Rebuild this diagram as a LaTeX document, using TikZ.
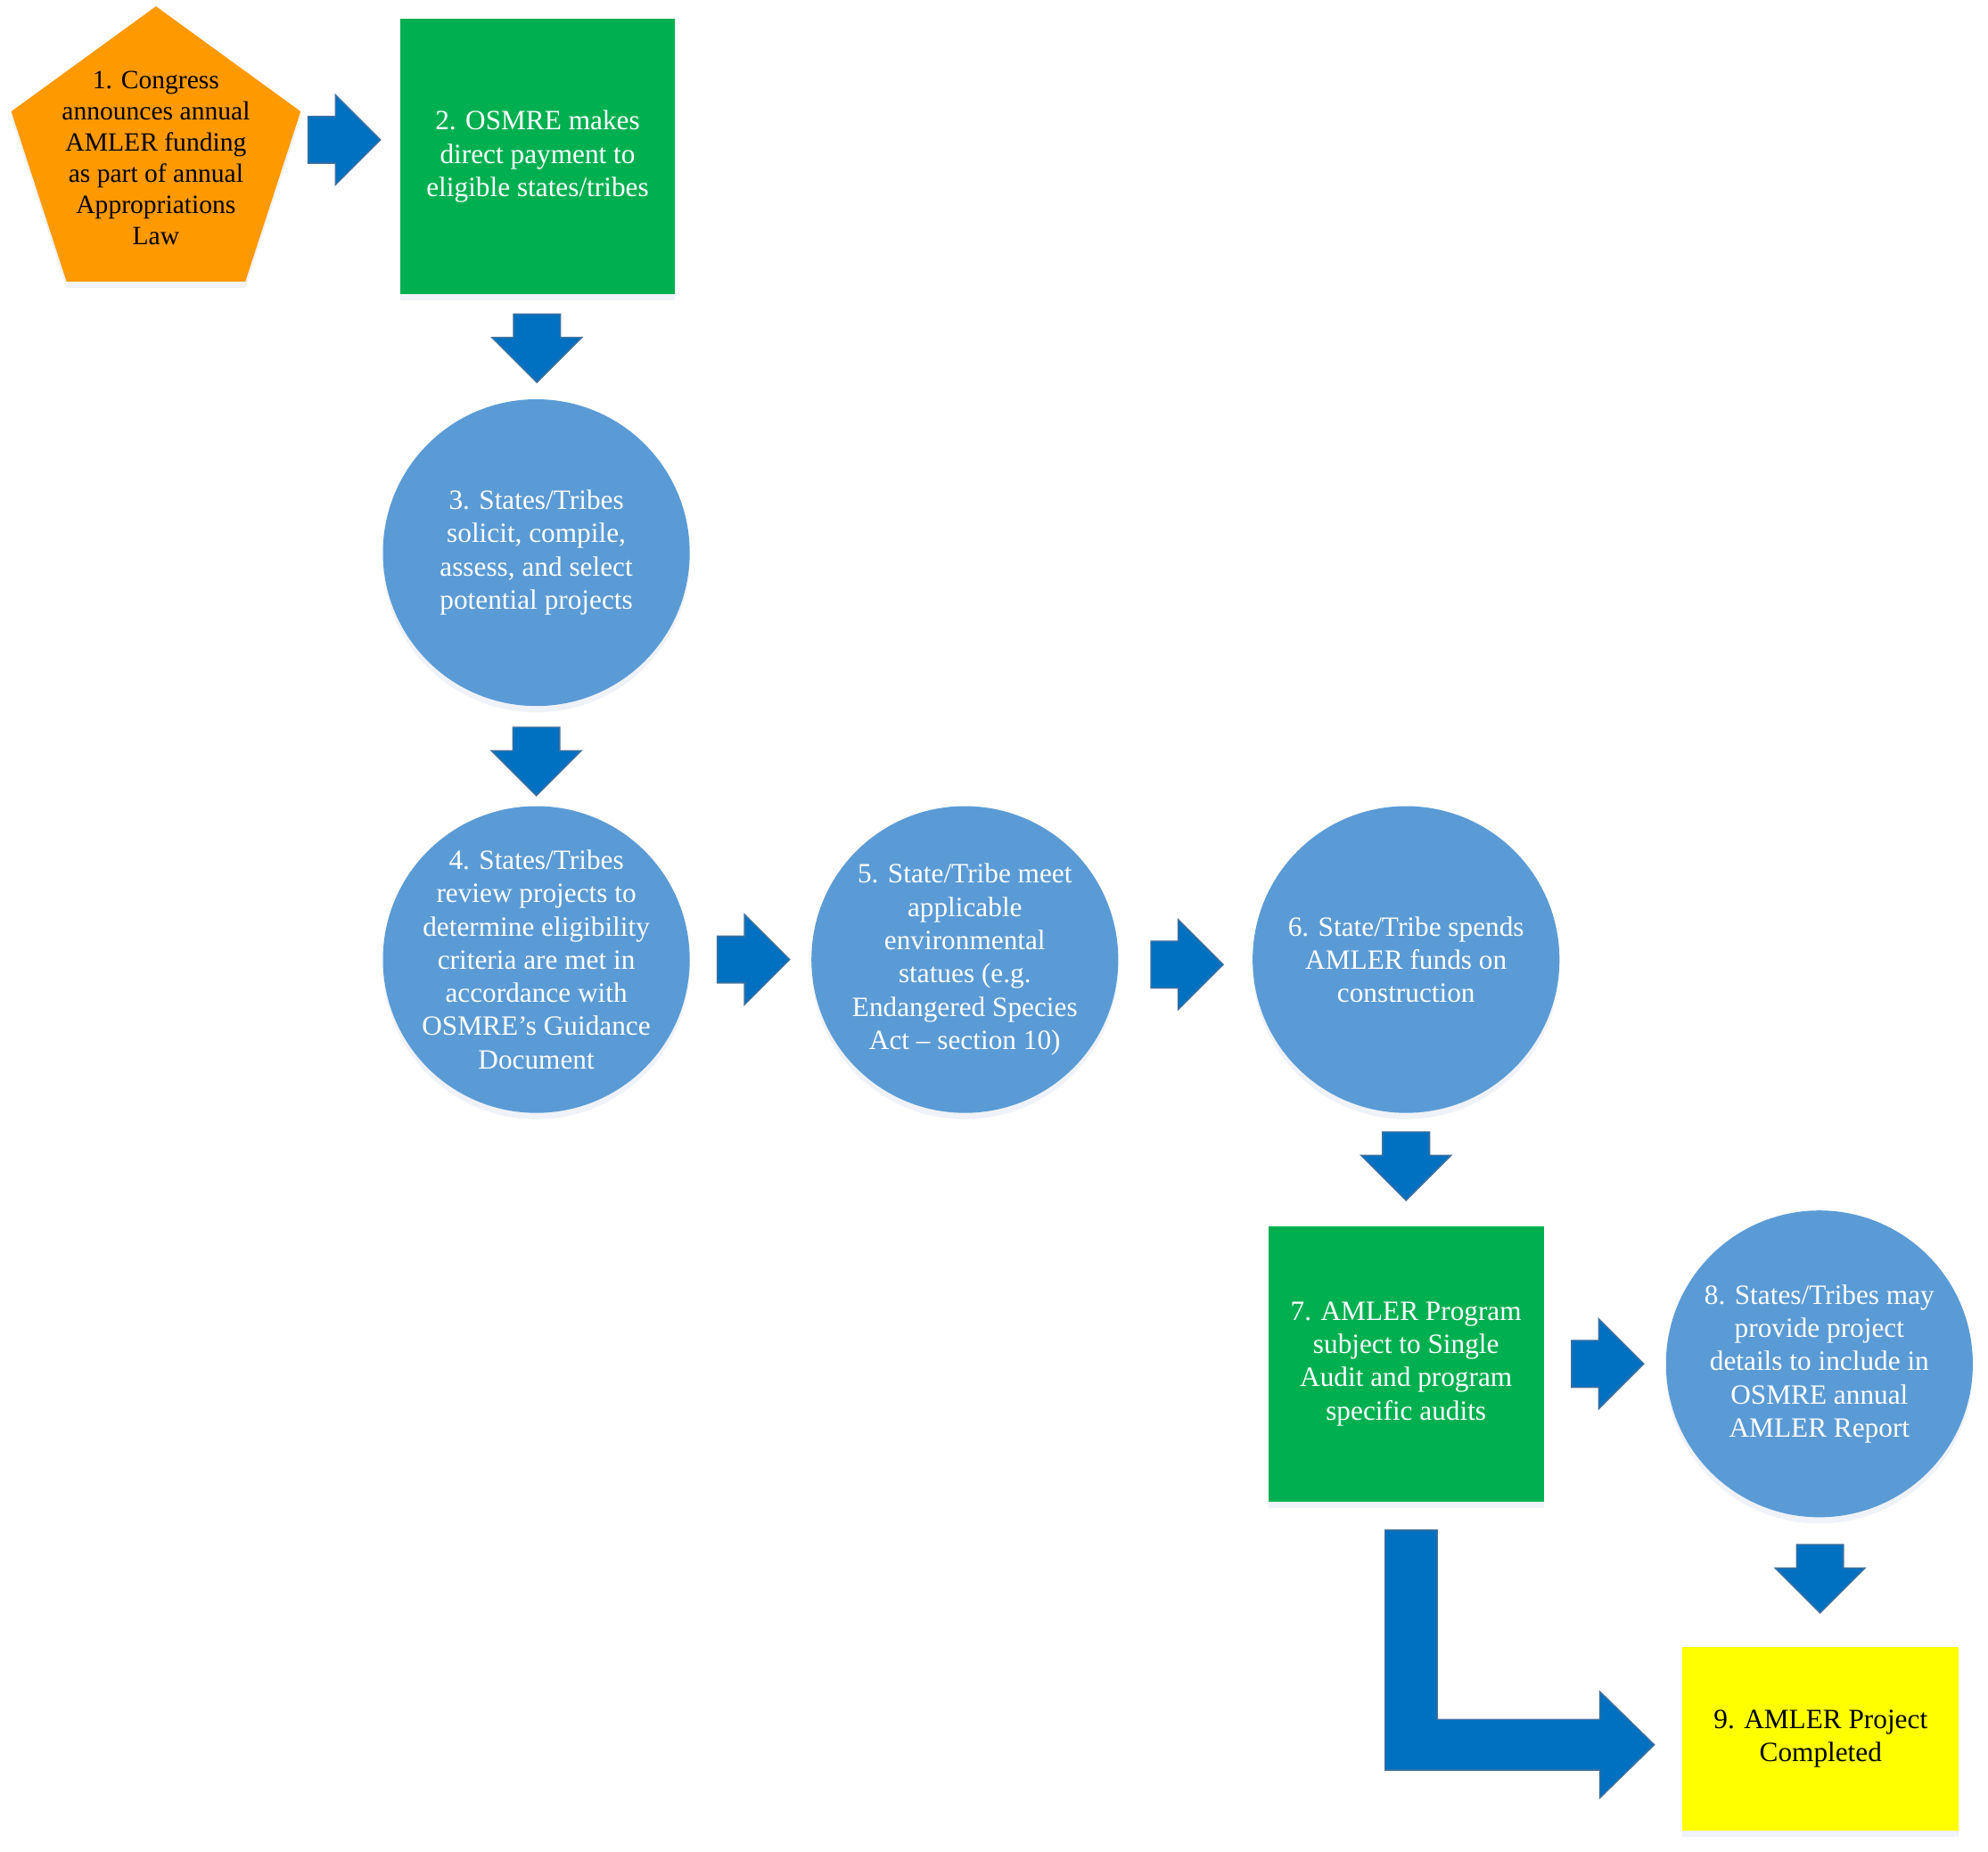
\documentclass[tikz,border=0pt]{standalone}
\usepackage{fontspec}
\setmainfont{Liberation Serif}
\usepackage{tikz}
\usetikzlibrary{calc}
\usetikzlibrary{positioning}
\usetikzlibrary{shapes.geometric,shapes.arrows}
\usetikzlibrary{shadows}

\definecolor{pentorange}{RGB}{255,153,0}
\definecolor{boxgreen}{RGB}{0,176,80}
\definecolor{boxyellow}{RGB}{255,255,0}
\definecolor{circblue}{RGB}{91,155,213}
\definecolor{arrowblue}{RGB}{0,112,192}
\definecolor{arrowline}{RGB}{65,113,156}
\definecolor{shadowblue}{RGB}{120,150,195}

\begin{document}
\begin{tikzpicture}
	[x=1pt, y=-1pt,
	every node/.style = {font=\fontsize{22}{26.2}\selectfont, align=center},
	soft/.style = {drop shadow={shadow xshift=0pt, shadow yshift=-5pt, opacity=.12, fill=shadowblue}},
	pent/.style = {regular polygon, regular polygon sides=5, minimum size=240pt, inner sep=0pt, fill=pentorange, soft},
	greenbox/.style = {rectangle, minimum size=217pt, inner sep=0pt, fill=boxgreen, text=white, soft},
	yellowbox/.style = {rectangle, minimum width=218pt, minimum height=145pt, inner sep=0pt, fill=boxyellow, soft},
	bluecirc/.style = {circle, minimum size=242pt, inner sep=0pt, fill=circblue, soft},
	wtxt/.style = {text=white},
	rarrow/.style = {single arrow, single arrow head extend=17pt, inner xsep=0pt, inner ysep=18pt, minimum height=57pt, fill=arrowblue, draw=arrowline, line width=1pt},
	darrow/.style = {rarrow, minimum height=54pt, rotate=-90}
	]
	\useasboundingbox (0,0) rectangle (1568,1461);

	% steps
	\node[pent] (n1) at (123,125) {};
	\node[font=\fontsize{20.8}{24.6}\selectfont] (t1) at (n1.center) {1. Congress\\announces annual\\AMLER funding\\as part of annual\\Appropriations\\Law};
	\node[greenbox] (n2) at (424,123.5) {2. OSMRE makes\\direct payment to\\eligible states/tribes};
	\node[bluecirc] (n3) at (423,436) {};
	\node[wtxt] (t3) at (n3) {3. States/Tribes\\solicit, compile,\\assess, and select\\potential projects};
	\node[bluecirc] (n4) at (423,757) {};
	\node[wtxt] (t4) at (n4) {4. States/Tribes\\review projects to\\determine eligibility\\criteria are met in\\accordance with\\OSMRE’s Guidance\\Document};
	\node[bluecirc] (n5) at (761,757) {};
	\node[wtxt] (t5) at (n5) {5. State/Tribe meet\\applicable\\environmental\\statues (e.g.\\Endangered Species\\Act \textendash{} section 10)};
	\node[bluecirc] (n6) at (1109,757) {};
	\node[wtxt] (t6) at (n6) {6. State/Tribe spends\\AMLER funds on\\construction};
	\node[greenbox] (n7) at (1109,1076) {7. AMLER Program\\subject to Single\\Audit and program\\specific audits};
	\node[bluecirc] (n8) at (1435,1076) {};
	\node[wtxt] (t8) at (n8) {8. States/Tribes may\\provide project\\details to include in\\OSMRE annual\\AMLER Report};
	\node[yellowbox] (n9) at (1436,1372) {9. AMLER Project\\Completed};

	% block arrows
	\node[rarrow] (a12) at ($(n1.east)!.5!(n2.west)+(-8,-14)$) {};
	\node[darrow] (a23) at ($(n2.south)!.5!(n3.north)+(0,-8)$) {};
	\node[darrow] (a34) at ($(n3.south)!.5!(n4.north)+(0,-5)$) {};
	\node[rarrow] (a45) at ($(n4.east)!.5!(n5.west)+(-7,0)$) {};
	\node[rarrow] (a56) at ($(n5.east)!.5!(n6.west)+(-8,4)$) {};
	\node[darrow] (a67) at ($(n6.south)!.5!(n7.north)+(0,-12)$) {};
	\node[rarrow] (a78) at ($(n7.east)!.5!(n8.west)+(-7,0)$) {};
	\node[darrow] (a89) at ($(n8.south)!.5!(n9.north)+(0,-12)$) {};

	% bent arrow from 7 to 9
	\coordinate (ltop) at ($(n7.south)+(4,22.5)$);
	\coordinate (ltip) at ($(n9.west)+(-22,4.5)$);
	\coordinate (lbend) at (ltop |- ltip);
	\draw[draw=arrowline, fill=arrowblue, line width=1pt] ($(ltop)+(-20.5,0)$) -- ($(lbend)+(-20.5,20)$) -- ($(ltip)+(-43,20)$) -- ($(ltip)+(-43,42)$) -- (ltip) -- ($(ltip)+(-43,-42)$) -- ($(ltip)+(-43,-20)$) -- ($(lbend)+(20.5,-20)$) -- ($(ltop)+(20.5,0)$) -- cycle;
\end{tikzpicture}
\end{document}
